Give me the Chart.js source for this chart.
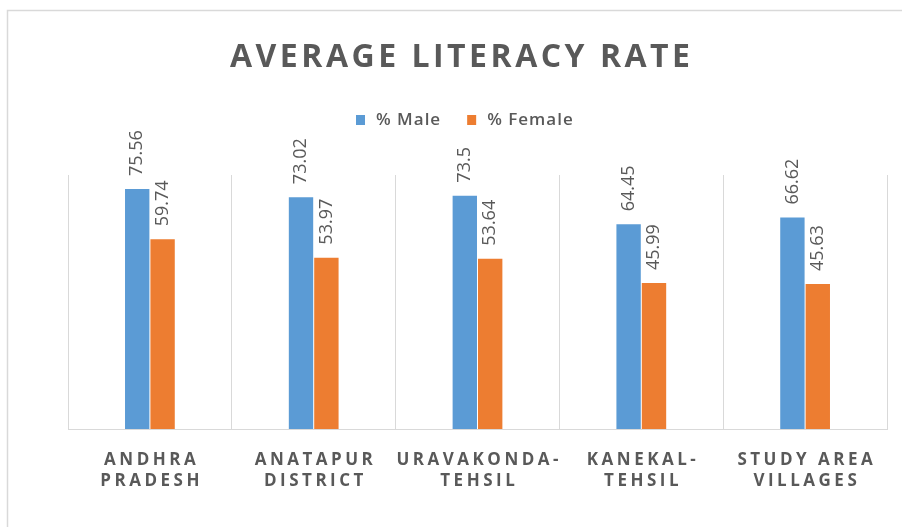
<!DOCTYPE html>
<html>
<head>
<meta charset="utf-8">
<script src="https://cdn.jsdelivr.net/npm/chart.js@4.4.1/dist/chart.umd.min.js"></script>
<style>
  html, body { margin: 0; padding: 0; background: #fff; }
  canvas { display: block; }
</style>
</head>
<body>
<canvas id="chart" width="902" height="527"></canvas>
<script>
const ctx = document.getElementById("chart");

// chart data
const chartTitle = "AVERAGE LITERACY RATE";
const places = [
  ["ANDHRA", "PRADESH"],
  ["ANATAPUR", "DISTRICT"],
  ["URAVAKONDA-", "TEHSIL"],
  ["KANEKAL-", "TEHSIL"],
  ["STUDY AREA", "VILLAGES"]
];
const seriesNames = ["% Male", "% Female"];
const maleRate = [75.56, 73.02, 73.5, 64.45, 66.62];
const femaleRate = [59.74, 53.97, 53.64, 45.99, 45.63];

const blue = "#5b9bd5";
const orange = "#ed7d31";
const grey = "#595959";
const lineGrey = "#d9d9d9";

// draws text with letter spacing, centred on cx
function spacedText(c, text, cx, y, spacing) {
  c.letterSpacing = spacing + "px";
  c.textAlign = "left";
  const w = c.measureText(text).width;
  c.fillText(text, cx - (w - spacing) / 2, y);
  c.letterSpacing = "0px";
}

const decorPlugin = {
  id: "decor",
  beforeDraw(chart) {
    const c = chart.ctx;
    c.save();
    c.strokeStyle = lineGrey;
    c.lineWidth = 1.5;
    c.strokeRect(7.5, 10.5, 1000, 1000);
    c.restore();
  },
  afterDatasetsDraw(chart) {
    const c = chart.ctx;
    c.save();
    c.fillStyle = grey;
    c.font = "18px 'Open Sans'";
    c.textBaseline = "middle";
    c.textAlign = "left";
    chart.data.datasets.forEach((ds, i) => {
      chart.getDatasetMeta(i).data.forEach((bar, j) => {
        c.save();
        c.translate(bar.x, bar.y - 13);
        c.rotate(-Math.PI / 2);
        c.fillText(String(ds.data[j]), 0, 0);
        c.restore();
      });
    });
    c.restore();
  },
  afterDraw(chart) {
    const c = chart.ctx;
    c.save();
    c.fillStyle = grey;
    c.textBaseline = "alphabetic";

    // title
    c.font = "bold 32px 'Open Sans'";
    spacedText(c, chartTitle, 460, 67, 3.5);

    // legend
    c.font = "600 17px 'Open Sans'";
    c.textBaseline = "middle";
    let x = 356;
    chart.data.datasets.forEach((ds) => {
      c.fillStyle = ds.backgroundColor;
      c.fillRect(x, 115, 9, 10);
      c.fillStyle = grey;
      c.letterSpacing = "1px";
      c.textAlign = "left";
      c.fillText(ds.label, x + 20, 120);
      x += 20 + c.measureText(ds.label).width + 26;
      c.letterSpacing = "0px";
    });

    // category labels
    const xs = chart.scales.x;
    c.font = "bold 17px 'Open Sans'";
    c.textBaseline = "alphabetic";
    chart.data.labels.forEach((lines, i) => {
      const cx = xs.getPixelForValue(i);
      spacedText(c, lines[0], cx, 465, 3.5);
      spacedText(c, lines[1], cx, 486, 3.5);
    });
    c.restore();
  }
};

new Chart(ctx, {
  type: "bar",
  data: {
    labels: places,
    datasets: [
      {
        label: seriesNames[0],
        data: maleRate,
        backgroundColor: blue,
        categoryPercentage: 0.31,
        barPercentage: 0.96,
      },
      {
        label: seriesNames[1],
        data: femaleRate,
        backgroundColor: orange,
        categoryPercentage: 0.31,
        barPercentage: 0.96,
      },
    ],
  },
  options: {
    responsive: false,
    animation: false,
    layout: {
      padding: { top: 175, left: 68, right: 15, bottom: 98 },
    },
    plugins: {
      legend: { display: false },
      title: { display: false },
      tooltip: { enabled: false },
    },
    scales: {
      x: {
        grid: { offset: true, color: lineGrey, drawTicks: false },
        border: { color: lineGrey },
        ticks: { display: false },
      },
      y: {
        display: false,
        min: 0,
        max: 80,
      },
    },
  },
  plugins: [decorPlugin],
});
</script>
</body>
</html>
